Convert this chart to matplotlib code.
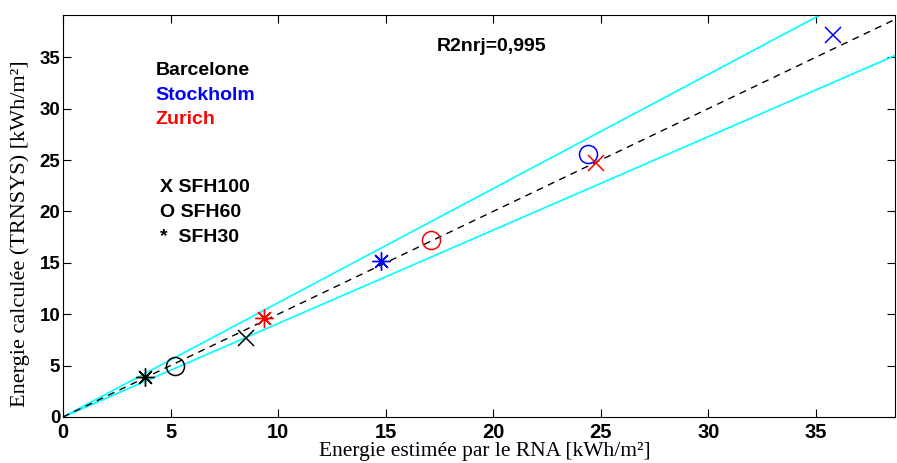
import matplotlib
matplotlib.use('Agg')
import matplotlib.pyplot as plt
import numpy as np

# values (estimated RNA vs TRNSYS)
cities = ['Barcelone', 'Stockholm', 'Zurich']
city_colors = ['black', 'blue', 'red']
# order per city: SFH100 (x), SFH60 (o), SFH30 (*)
est = [[8.5, 5.2, 3.8],
       [35.8, 24.4, 14.8],
       [24.8, 17.1, 9.35]]
calc = [[7.7, 4.95, 3.9],
        [37.2, 25.6, 15.2],
        [24.7, 17.2, 9.6]]
types = ['SFH100', 'SFH60', 'SFH30']
xmax, ymax = 38.7, 39.1

fig = plt.figure(figsize=(8.97, 4.63), dpi=100)
ax = fig.add_axes([0.0702, 0.0994, 0.928, 0.868])

xx = np.array([0, 45])
ax.plot(xx, xx / 0.9, color='cyan', lw=1.2)
ax.plot(xx, xx / 1.1, color='cyan', lw=1.2)
ax.plot(xx, xx, 'k--', lw=1.0, dashes=(5, 4))

for i in range(3):
    c = city_colors[i]
    ax.plot(est[i][0], calc[i][0], marker='x', ms=11, mew=1.1, color=c, ls='none')
    ax.plot(est[i][1], calc[i][1], marker='o', ms=13, mew=1.1, mfc='none', mec=c, ls='none')
    ax.plot(est[i][2], calc[i][2], marker=(8, 2, 0), ms=13, mew=1.0, color=c, ls='none')

ax.set_xlim(0, xmax)
ax.set_ylim(0, ymax)
ax.set_xticks(np.arange(0, 40, 5))
ax.set_yticks(np.arange(0, 40, 5))
ax.tick_params(direction='in', top=True, right=True, length=6, width=0.8)
ax.tick_params(axis='x', pad=4)
ax.tick_params(axis='y', pad=2)
for lab in ax.get_xticklabels():
    lab.set_family('Liberation Sans')
    lab.set_fontweight('bold')
    lab.set_fontsize(14.5)
for lab in ax.get_yticklabels():
    lab.set_family('Liberation Sans')
    lab.set_fontweight('bold')
    lab.set_fontsize(13.5)

ax.set_xlabel('Energie estimée par le RNA [kWh/m²]', family='Liberation Serif', fontsize=15.5)
ax.set_ylabel('Energie calculée (TRNSYS) [kWh/m²]', family='Liberation Serif', fontsize=16)
ax.xaxis.set_label_coords(0.507, -0.063)
ax.yaxis.set_label_coords(-0.04, 0.455)

tfont = dict(family='Liberation Sans', fontweight='bold', fontsize=14)
ax.text(17.4, 36.0, 'R2nrj=0,995', va='center', **tfont)
for i, name in enumerate(cities):
    ax.text(4.3, 33.7 - i * 2.4, name, color=city_colors[i], va='center', **tfont)
sym = ['X', 'O', '*']
for i, t in enumerate(types):
    ax.text(4.5, 22.3 - i * 2.4, sym[i] + ' ' + t if i < 2 else sym[i] + '  ' + t, va='center', **tfont)

fig.savefig('out.png', dpi=100)
